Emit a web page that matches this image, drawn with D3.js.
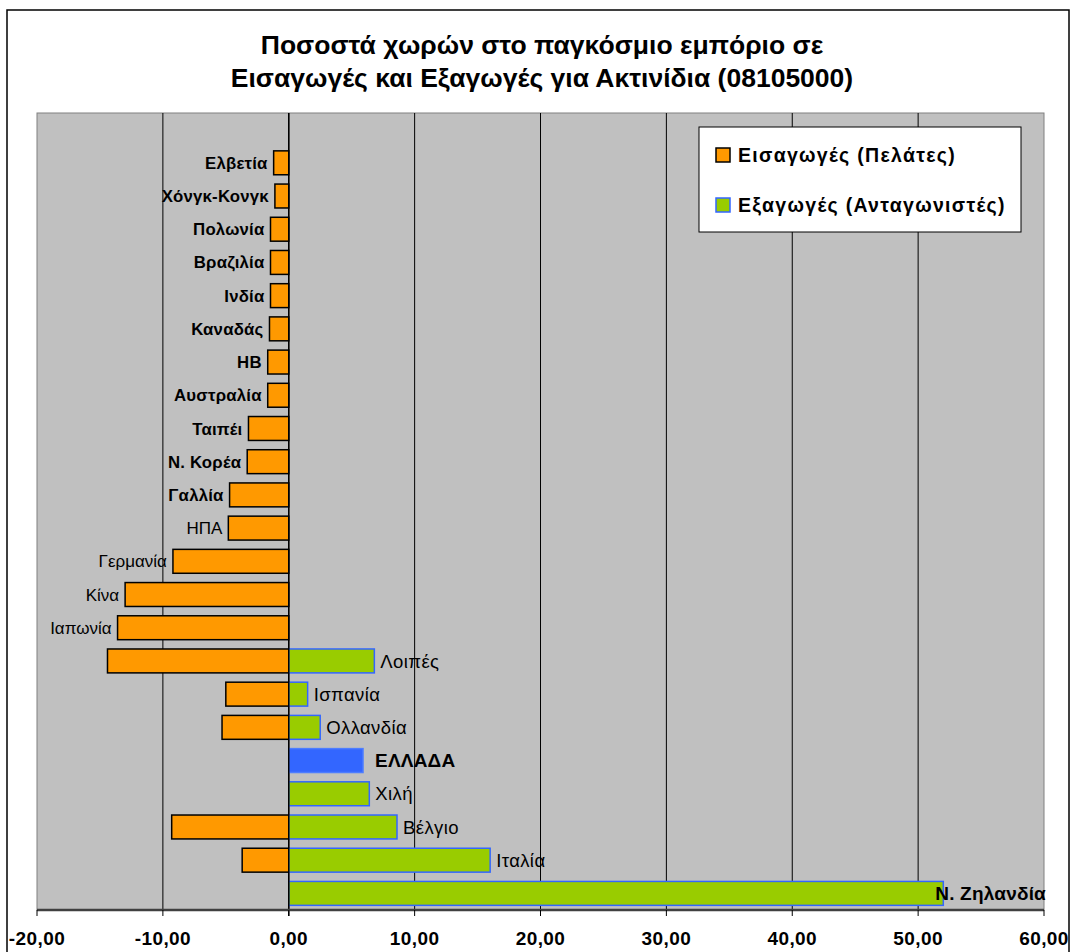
<!DOCTYPE html>
<html>
<head>
<meta charset="utf-8">
<script src="https://cdn.jsdelivr.net/npm/d3@7"></script>
<style>
  html, body { margin: 0; padding: 0; background: #fff; }
  svg { display: block; font-family: Arial, "Liberation Sans", sans-serif; }
</style>
</head>
<body>
<svg id="chart" width="1070" height="952"></svg>
<script>
// Countries from top to bottom; the first band is left empty.
const countries = ["", "Ελβετία", "Χόνγκ-Κονγκ", "Πολωνία", "Βραζιλία", "Ινδία", "Καναδάς", "ΗΒ",
  "Αυστραλία", "Ταιπέι", "Ν. Κορέα", "Γαλλία", "ΗΠΑ", "Γερμανία", "Κίνα", "Ιαπωνία",
  "Λοιπές", "Ισπανία", "Ολλανδία", "ΕΛΛΑΔΑ", "Χιλή", "Βέλγιο", "Ιταλία", "Ν. Ζηλανδία"];

// Share of world imports (drawn to the left as negative values)
const imports = [null, -1.2, -1.1, -1.45, -1.45, -1.45, -1.53, -1.67,
  -1.67, -3.2, -3.3, -4.7, -4.8, -9.2, -13.0, -13.6,
  -14.4, -5.0, -5.3, null, null, -9.3, -3.7, null];

// Share of world exports
const exportsShare = [null, null, null, null, null, null, null, null,
  null, null, null, null, null, null, null, null,
  6.8, 1.5, 2.5, 5.9, 6.4, 8.6, 16.0, 52.0];

const homeCountry = "ΕΛΛΑΔΑ";
const boldLabels = ["Ελβετία", "Χόνγκ-Κονγκ", "Πολωνία", "Βραζιλία", "Ινδία", "Καναδάς", "ΗΒ",
  "Αυστραλία", "Ταιπέι", "Ν. Κορέα", "Γαλλία", "ΕΛΛΑΔΑ", "Ν. Ζηλανδία"];
const largeLabels = ["ΕΛΛΑΔΑ", "Ν. Ζηλανδία"];

const xTicks = [-20, -10, 0, 10, 20, 30, 40, 50, 60];
const titleLines = ["Ποσοστά χωρών στο παγκόσμιο εμπόριο σε",
  "Εισαγωγές και Εξαγωγές για Ακτινίδια (08105000)"];
const legendItems = [
  { label: "Εισαγωγές (Πελάτες)", fill: "#FF9900", stroke: "#000000" },
  { label: "Εξαγωγές (Ανταγωνιστές)", fill: "#99CC00", stroke: "#3366FF" }
];

const svg = d3.select("#chart");
const plot = { left: 37, right: 1044, top: 113, bottom: 910 };

// Outer chart frame
svg.append("rect")
  .attr("x", 7).attr("y", 10).attr("width", 1062).attr("height", 960)
  .attr("fill", "#fff").attr("stroke", "#000").attr("stroke-width", 1.5);

// Title
svg.append("g").selectAll("text").data(titleLines).join("text")
  .attr("x", 542).attr("y", (d, i) => 54 + i * 33)
  .attr("text-anchor", "middle")
  .attr("font-size", 26.5).attr("font-weight", "bold")
  .text(d => d);

const x = d3.scaleLinear().domain([-20, 60]).range([plot.left, plot.right]);
const y = d3.scaleBand().domain(d3.range(countries.length))
  .range([plot.top, plot.bottom]).paddingInner(0.28).paddingOuter(0.14);

// Plot background
svg.append("rect")
  .attr("x", plot.left).attr("y", plot.top)
  .attr("width", plot.right - plot.left).attr("height", plot.bottom - plot.top)
  .attr("fill", "#C0C0C0").attr("stroke", "#808080").attr("stroke-width", 1);

// Vertical gridlines
svg.append("g").selectAll("line").data(xTicks.filter(t => t > -20 && t < 60)).join("line")
  .attr("x1", d => x(d)).attr("x2", d => x(d))
  .attr("y1", plot.top).attr("y2", plot.bottom)
  .attr("stroke", "#000").attr("stroke-width", 1);

// Import bars
const rows = countries.map((c, i) => ({ c, i, imp: imports[i], exp: exportsShare[i] }));

svg.append("g").selectAll("rect").data(rows.filter(r => r.imp != null)).join("rect")
  .attr("x", r => x(r.imp)).attr("y", r => y(r.i))
  .attr("width", r => x(0) - x(r.imp)).attr("height", y.bandwidth())
  .attr("fill", "#FF9900").attr("stroke", "#000").attr("stroke-width", 1.5);

// Export bars (home country highlighted in blue)
svg.append("g").selectAll("rect").data(rows.filter(r => r.exp != null)).join("rect")
  .attr("x", x(0)).attr("y", r => y(r.i))
  .attr("width", r => x(r.exp) - x(0)).attr("height", y.bandwidth())
  .attr("fill", r => r.c === homeCountry ? "#3366FF" : "#99CC00")
  .attr("stroke", r => r.c === homeCountry ? "#4D7DFF" : "#3366FF")
  .attr("stroke-width", 1.5);

// Category axis line at zero
svg.append("line")
  .attr("x1", x(0)).attr("x2", x(0)).attr("y1", plot.top).attr("y2", plot.bottom + 6)
  .attr("stroke", "#000").attr("stroke-width", 1.5);

// Country labels: beside the export bar where there is one, otherwise left of the import bar
const labels = svg.append("g").selectAll("text").data(rows.filter(r => r.c !== "")).join("text")
  .attr("y", r => y(r.i) + y.bandwidth() / 2)
  .attr("dy", "0.36em")
  .attr("font-size", r => {
    if (largeLabels.includes(r.c)) return 19;
    if (boldLabels.includes(r.c)) return 16.8;
    return r.exp != null ? 18.5 : 17;
  })
  .attr("letter-spacing", r => boldLabels.includes(r.c) ? 0.2 : (r.exp != null ? 0.4 : 0))
  .attr("font-weight", r => boldLabels.includes(r.c) ? "bold" : "normal")
  .attr("fill", "#000")
  .text(r => r.c);

labels.each(function (r) {
  const t = d3.select(this);
  if (r.exp != null) {
    const gap = r.c === homeCountry ? 12 : 6;
    const w = this.getComputedTextLength();
    const lx = Math.min(x(r.exp) + gap, plot.right + 2 - w);
    t.attr("x", lx).attr("text-anchor", "start");
  } else {
    t.attr("x", x(r.imp) - 6).attr("text-anchor", "end");
  }
});

// Bottom value axis
const axis = svg.append("g").attr("transform", `translate(0,${plot.bottom})`);
axis.append("line")
  .attr("x1", plot.left).attr("x2", plot.right)
  .attr("stroke", "#404040").attr("stroke-width", 2.5);
axis.selectAll("line.tick").data(xTicks).join("line")
  .attr("class", "tick")
  .attr("x1", d => x(d)).attr("x2", d => x(d)).attr("y1", 0).attr("y2", 6)
  .attr("stroke", "#000").attr("stroke-width", 1);
const fmt = d => d3.format(".2f")(d).replace(".", ",").replace("−", "-");
axis.selectAll("text").data(xTicks).join("text")
  .attr("x", d => x(d)).attr("y", 35)
  .attr("text-anchor", "middle")
  .attr("font-size", 19).attr("letter-spacing", 0.4).attr("font-weight", "bold")
  .text(fmt);

// Legend
const legend = svg.append("g").attr("transform", "translate(699,127)");
legend.append("rect").attr("width", 322).attr("height", 105)
  .attr("fill", "#fff").attr("stroke", "#000").attr("stroke-width", 1);
const li = legend.selectAll("g").data(legendItems).join("g")
  .attr("transform", (d, i) => `translate(17,${28 + i * 50})`);
li.append("rect").attr("x", 0).attr("y", -7).attr("width", 14).attr("height", 14)
  .attr("fill", d => d.fill).attr("stroke", d => d.stroke).attr("stroke-width", 1.5);
li.append("text").attr("x", 22).attr("dy", "0.36em")
  .attr("font-size", 19.5).attr("letter-spacing", 1.3).attr("font-weight", "bold")
  .text(d => d.label);
</script>
</body>
</html>
